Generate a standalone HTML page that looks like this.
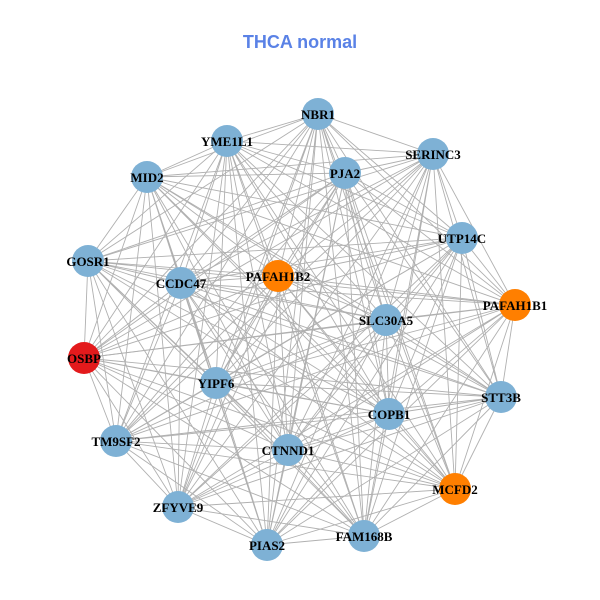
<!DOCTYPE html>
<html><head><meta charset="utf-8"><style>html,body{margin:0;padding:0;background:#fff}svg{display:block}</style></head>
<body>
<svg width="600" height="600" xmlns="http://www.w3.org/2000/svg">
<rect width="600" height="600" fill="#fff"/>
<text x="300" y="48" text-anchor="middle" font-family="Liberation Sans, sans-serif" font-weight="bold" font-size="18" fill="#5a82e6">THCA normal</text>
<g fill="none" stroke="#b0b0b0" stroke-width="0.9">
<path d="M318 114L227 141 318 114 433 154 318 114 147 177 318 114 345 173 318 114 462 238 318 114 88 261 318 114 181 283 318 114 278 276 318 114 515 305 318 114 386 320 318 114 84 358 318 114 216 383 318 114 501 397 318 114 389 414 318 114 116 441 318 114 288 450 318 114 455 489 318 114 178 507 318 114 364 536 318 114 267 545"/>
<path d="M227 141L433 154 227 141 147 177 227 141 345 173 227 141 462 238 227 141 88 261 227 141 181 283 227 141 278 276 227 141 515 305 227 141 386 320 227 141 84 358 227 141 216 383 227 141 501 397 227 141 389 414 227 141 116 441 227 141 288 450 227 141 455 489 227 141 178 507 227 141 364 536 227 141 267 545"/>
<path d="M433 154L147 177 433 154 345 173 433 154 462 238 433 154 88 261 433 154 181 283 433 154 278 276 433 154 515 305 433 154 386 320 433 154 84 358 433 154 216 383 433 154 501 397 433 154 389 414 433 154 116 441 433 154 288 450 433 154 455 489 433 154 178 507 433 154 364 536 433 154 267 545"/>
<path d="M147 177L345 173 147 177 462 238 147 177 88 261 147 177 181 283 147 177 278 276 147 177 515 305 147 177 386 320 147 177 84 358 147 177 216 383 147 177 501 397 147 177 389 414 147 177 116 441 147 177 288 450 147 177 455 489 147 177 178 507 147 177 364 536 147 177 267 545"/>
<path d="M345 173L462 238 345 173 88 261 345 173 181 283 345 173 278 276 345 173 515 305 345 173 386 320 345 173 84 358 345 173 216 383 345 173 501 397 345 173 389 414 345 173 116 441 345 173 288 450 345 173 455 489 345 173 178 507 345 173 364 536 345 173 267 545"/>
<path d="M462 238L88 261 462 238 181 283 462 238 278 276 462 238 515 305 462 238 386 320 462 238 84 358 462 238 216 383 462 238 501 397 462 238 389 414 462 238 116 441 462 238 288 450 462 238 455 489 462 238 178 507 462 238 364 536 462 238 267 545"/>
<path d="M88 261L181 283 88 261 278 276 88 261 515 305 88 261 386 320 88 261 84 358 88 261 216 383 88 261 501 397 88 261 389 414 88 261 116 441 88 261 288 450 88 261 455 489 88 261 178 507 88 261 364 536 88 261 267 545"/>
<path d="M181 283L278 276 181 283 515 305 181 283 386 320 181 283 84 358 181 283 216 383 181 283 501 397 181 283 389 414 181 283 116 441 181 283 288 450 181 283 455 489 181 283 178 507 181 283 364 536 181 283 267 545"/>
<path d="M278 276L515 305 278 276 386 320 278 276 84 358 278 276 216 383 278 276 501 397 278 276 389 414 278 276 116 441 278 276 288 450 278 276 455 489 278 276 178 507 278 276 364 536 278 276 267 545"/>
<path d="M515 305L386 320 515 305 84 358 515 305 216 383 515 305 501 397 515 305 389 414 515 305 116 441 515 305 288 450 515 305 455 489 515 305 178 507 515 305 364 536 515 305 267 545"/>
<path d="M386 320L84 358 386 320 216 383 386 320 501 397 386 320 389 414 386 320 116 441 386 320 288 450 386 320 455 489 386 320 178 507 386 320 364 536 386 320 267 545"/>
<path d="M84 358L216 383 84 358 501 397 84 358 389 414 84 358 116 441 84 358 288 450 84 358 455 489 84 358 178 507 84 358 364 536 84 358 267 545"/>
<path d="M216 383L501 397 216 383 389 414 216 383 116 441 216 383 288 450 216 383 455 489 216 383 178 507 216 383 364 536 216 383 267 545"/>
<path d="M501 397L389 414 501 397 116 441 501 397 288 450 501 397 455 489 501 397 178 507 501 397 364 536 501 397 267 545"/>
<path d="M389 414L116 441 389 414 288 450 389 414 455 489 389 414 178 507 389 414 364 536 389 414 267 545"/>
<path d="M116 441L288 450 116 441 455 489 116 441 178 507 116 441 364 536 116 441 267 545"/>
<path d="M288 450L455 489 288 450 178 507 288 450 364 536 288 450 267 545"/>
<path d="M455 489L178 507 455 489 364 536 455 489 267 545"/>
<path d="M178 507L364 536 178 507 267 545"/>
<path d="M364 536L267 545"/>
</g>
<g fill="#7eb1d5">
<circle cx="318" cy="114" r="16"/><circle cx="227" cy="141" r="16"/><circle cx="433" cy="154" r="16"/><circle cx="147" cy="177" r="16"/><circle cx="345" cy="173" r="16"/><circle cx="462" cy="238" r="16"/><circle cx="88" cy="261" r="16"/><circle cx="181" cy="283" r="16"/><circle cx="386" cy="320" r="16"/><circle cx="216" cy="383" r="16"/><circle cx="501" cy="397" r="16"/><circle cx="389" cy="414" r="16"/><circle cx="116" cy="441" r="16"/><circle cx="288" cy="450" r="16"/><circle cx="178" cy="507" r="16"/><circle cx="364" cy="536" r="16"/><circle cx="267" cy="545" r="16"/>
</g>
<g fill="#ff7f00"><circle cx="278" cy="276" r="16"/><circle cx="515" cy="305" r="16"/><circle cx="455" cy="489" r="16"/></g>
<circle cx="84" cy="358" r="16" fill="#e31a1c"/>
<g font-family="Liberation Serif, serif" font-weight="bold" font-size="13" text-anchor="middle" fill="#000">
<text x="318" y="119">NBR1</text>
<text x="227" y="146">YME1L1</text>
<text x="433" y="159">SERINC3</text>
<text x="147" y="182">MID2</text>
<text x="345" y="178">PJA2</text>
<text x="462" y="243">UTP14C</text>
<text x="88" y="266">GOSR1</text>
<text x="181" y="288">CCDC47</text>
<text x="278" y="281">PAFAH1B2</text>
<text x="515" y="310">PAFAH1B1</text>
<text x="386" y="325">SLC30A5</text>
<text x="84" y="363">OSBP</text>
<text x="216" y="388">YIPF6</text>
<text x="501" y="402">STT3B</text>
<text x="389" y="419">COPB1</text>
<text x="116" y="446">TM9SF2</text>
<text x="288" y="455">CTNND1</text>
<text x="455" y="494">MCFD2</text>
<text x="178" y="512">ZFYVE9</text>
<text x="364" y="541">FAM168B</text>
<text x="267" y="550">PIAS2</text>
</g>
</svg>
</body></html>
